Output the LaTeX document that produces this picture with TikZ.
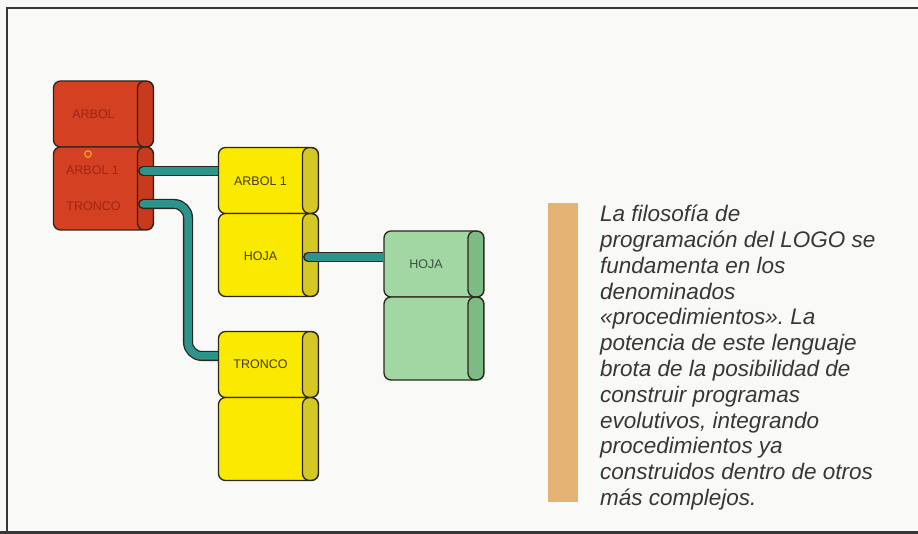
\documentclass[tikz,border=0pt]{standalone}
\usepackage{fontspec}
\setmainfont{Liberation Sans}
\usepackage{tikz}
\usetikzlibrary{positioning}
\frenchspacing
\definecolor{paper}{RGB}{249,249,247}
\definecolor{frame}{RGB}{55,55,55}
\definecolor{edge}{RGB}{45,38,30}
\definecolor{redfill}{RGB}{212,64,34}
\definecolor{redcap}{RGB}{200,58,30}
\definecolor{redtext}{RGB}{160,38,22}
\definecolor{yellowfill}{RGB}{250,233,0}
\definecolor{yellowcap}{RGB}{212,200,36}
\definecolor{greenfill}{RGB}{162,214,162}
\definecolor{greencap}{RGB}{126,186,132}
\definecolor{wirefill}{RGB}{44,148,138}
\definecolor{barfill}{RGB}{228,178,114}
\tikzstyle{block} = [rectangle, rounded corners=7pt, minimum width=100pt, minimum height=66pt, draw=edge, line width=1.3pt, inner sep=0pt]
\tikzstyle{tall} = [minimum height=83pt]
\tikzstyle{redbox} = [block, fill=redfill, path picture={\draw[draw=edge, fill=redcap, rounded corners=7pt] ([xshift=-16pt]path picture bounding box.north east) rectangle (path picture bounding box.south east);}]
\tikzstyle{yellowbox} = [block, fill=yellowfill, path picture={\draw[draw=edge, fill=yellowcap, rounded corners=7pt] ([xshift=-16pt]path picture bounding box.north east) rectangle (path picture bounding box.south east);}]
\tikzstyle{greenbox} = [block, fill=greenfill, path picture={\draw[draw=edge, fill=greencap, rounded corners=7pt] ([xshift=-16pt]path picture bounding box.north east) rectangle (path picture bounding box.south east);}]
\tikzstyle{tag} = [inner sep=0pt, font=\fontsize{12.5}{14}\selectfont]
\tikzstyle{redtag} = [tag, text=redtext]
\tikzstyle{yellowtag} = [tag, text={rgb,255:red,70;green,60;blue,10}]
\tikzstyle{greentag} = [tag, text={rgb,255:red,60;green,80;blue,70}]
\tikzstyle{wire} = [draw=edge, line width=1.3pt, double=wirefill, double distance=7.5pt, rounded corners=14pt]
\tikzstyle{plug} = [draw=edge, line width=1.3pt, fill=wirefill]

\begin{document}
\begin{tikzpicture}[x=1pt, y=-1pt, node distance=74.5pt]
      \useasboundingbox (0,0) rectangle (918,534);
      \fill[paper] (0,0) rectangle (918,534);
      \draw[frame, line width=2pt] (6,8) -- (918,8);
      \draw[frame, line width=1.5pt] (7,8) -- (7,531);
      \fill[frame] (0,530.5) rectangle (918,534);

      \node (red0) [redbox] at (103.5,114) {};
      \node (red1) [redbox, tall, below of=red0] {};
      \node (arbol) [redtag] at ([xshift=-10pt]red0.center) {ARBOL};
      \node (arbolsub) [redtag] at ([xshift=-11pt, yshift=18.5pt]red1.center) {ARBOL 1};
      \node (troncosub) [redtag] at ([xshift=-10pt, yshift=-18pt]red1.center) {TRONCO};
      \node (ring) [draw={rgb,255:red,245;green,160;blue,50}, line width=1.2pt, circle, inner sep=0pt, minimum size=6.5pt] at ([xshift=-15.5pt, yshift=34.5pt]red1.center) {};

      \node (arb1) [yellowbox] at (268.5,180.5) {};
      \node (hoj0) [yellowbox, tall, below of=arb1] {};
      \node (tro0) [yellowbox] at (268.5,364.5) {};
      \node (tro1) [yellowbox, tall, below of=tro0] {};
      \node (arb1lab) [yellowtag] at ([xshift=-8pt, yshift=-1pt]arb1.center) {ARBOL 1};
      \node (hoj0lab) [yellowtag] at ([xshift=-8pt, yshift=-1pt]hoj0.center) {HOJA};
      \node (tro0lab) [yellowtag] at ([xshift=-8pt]tro0.center) {TRONCO};

      \node (hoj1) [greenbox] at (434,264) {};
      \node (hoj2) [greenbox, tall, below of=hoj1] {};
      \node (hoj1lab) [greentag] at ([xshift=-8pt]hoj1.center) {HOJA};

      \coordinate (s1) at ([xshift=-11pt, yshift=17.5pt]red1.east);
      \coordinate (s2) at ([xshift=-11pt, yshift=-15.5pt]red1.east);
      \coordinate (s3) at ([xshift=-11pt, yshift=-2pt]hoj0.east);
      \coordinate (kink) at (188,280);
      \coordinate (t2) at ([yshift=8.5pt]tro0.west);
      \filldraw[plug] (s1) circle (4.4pt);
      \draw[wire] (s1) -- (s1 -| arb1.west);
      \filldraw[plug] (s2) circle (4.4pt);
      \draw[wire] (s2) -| (kink) |- (t2);
      \filldraw[plug] (s3) circle (4.4pt);
      \draw[wire] (s3) -- (s3 -| hoj1.west);

      \node (bar) [fill=barfill, minimum width=30pt, minimum height=299pt, inner sep=0pt, anchor=north west] at (548,203) {};
      \node (blurb) [anchor=north west, align=left, inner sep=0pt, text={rgb,255:red,55;green,55;blue,55}, font=\fontsize{22.5}{25.8}\selectfont\itshape] at (600,205) {La filosofía de\\programación del LOGO se\\fundamenta en los\\denominados\\«procedimientos». La\\potencia de este lenguaje\\brota de la posibilidad de\\construir programas\\evolutivos, integrando\\procedimientos ya\\construidos dentro de otros\\más complejos.};
    \end{tikzpicture}
\end{document}
